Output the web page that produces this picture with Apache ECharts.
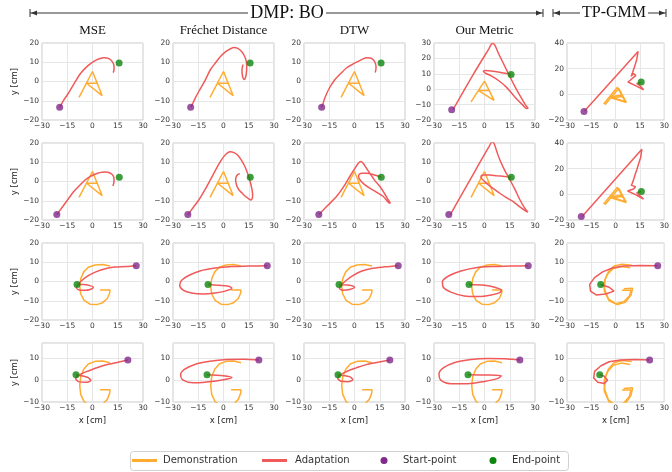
<!DOCTYPE html>
<html><head><meta charset="utf-8">
<script src="https://cdn.jsdelivr.net/npm/echarts/dist/echarts.min.js"></script>
<style>html,body{margin:0;padding:0;background:#fff}#c{width:672px;height:472px}</style>
</head><body><div id="c"></div>
<script>
// ---- column / group labels ----
const colTitles = ['MSE', 'Fréchet Distance', 'DTW', 'Our Metric'];
const xTicks = [-30, -15, 0, 15, 30];

// ---- demonstrations ----
const demoA = [[-8, -8.2], [0, 5.2], [5.7, -7.3], [-3.5, -0.9], [3.2, -0.9]];
const demoA_tp1 = [[-7.4, -7.6], [1.1, 5.5], [6, -5.7], [-3.4, -1.8], [3.5, -0.8]];
const demoA_tp2 = [[-6.6, -8.2], [1.9, 4.6], [6.6, -6.3], [-2.8, -2.6], [4.3, -1.7]];
const demoG = [[10.4, 8], [6, 8.8], [1.5, 8.6], [-2.5, 7.4], [-5.2, 5], [-7, 1.5], [-7.6, -2.5], [-7, -6.5], [-5, -9.8], [-1.5, -11.8], [2.5, -12], [6, -11], [8.8, -8.8], [10.2, -6], [10.4, -4.4], [4.5, -4.4]];
const demoG_tp1 = [[10, 8.5], [4, 9], [-1, 8], [-4.5, 5], [-6.5, 1], [-6.8, -4], [-4.5, -9], [0, -11.5], [5, -10.5], [8.5, -7.5], [9.5, -4.5], [4, -4.5]];
const demoG_tp2 = [[9, 7.2], [3.5, 7.8], [-1.5, 6.8], [-5, 3.8], [-7, 0], [-7, -5], [-4, -10], [1, -12], [6, -10.8], [9.5, -7], [10.5, -3.5], [5, -3.8]];

// ---- start / end points per row ----
const startPts = [[-19.5, -13.4], [-21.2, -17.2], [26, 8.2], [21, 9.2]];
const endPts = [[15.8, 9.6], [15.9, 2.2], [-9.2, -1.6], [-9.8, 2.5]];

// ---- adaptations, row 1 (letter A) ----
const r1_mse = [[-19.5, -13.4], [-17, -9.5], [-15, -7], [-11, -1.2], [-7, 4.3], [-3, 8], [0.8, 10.4], [4, 11.8], [7, 12.4], [9.5, 12], [11.5, 10.6], [12.7, 8.5], [12.8, 6.2], [12.3, 4.6]];
const r1_frechet = [[-19.3, -13.4], [-17, -9], [-14.7, -5.2], [-11, 0.5], [-7.8, 6.1], [-4.5, 10], [-1.8, 13], [1.5, 15.6], [4.2, 17], [6.2, 17.6], [8.5, 17.2], [10.5, 15.8], [12.3, 13.5], [13.4, 11], [13.8, 7.8], [13.6, 4.5], [13.1, 2.2], [12.4, 1], [11.6, 1.8], [11.1, 3.8], [11, 6.1], [11.3, 7.8], [11.7, 8.8]];
const r1_dtw = [[-19.5, -13.4], [-18.5, -11], [-17.7, -8.7], [-15, -3.5], [-11.7, 0.9], [-8, 4.3], [-4.8, 7], [-1.5, 8.8], [1.2, 10.1], [4.5, 11.5], [7.2, 12.4], [9.5, 12.2], [11.3, 11.2], [12.5, 9.2], [12.8, 7], [12.3, 4.7]];
const r1_ours = [[-18.7, -13.3], [-7, 9], [2.5, 26], [4.6, 29.6], [5.8, 29.3], [8, 24], [11.1, 17], [14.5, 9.5], [18.1, 1.7], [21.5, -5], [24.5, -10.5], [25.8, -12.3], [25, -12.5], [22.5, -10], [18, -5], [13.1, 1.2], [8.5, 5.5], [4, 8.6], [0.5, 10.5], [-0.7, 11.6], [0.5, 12.1], [4, 11.8], [9, 11], [13, 10.2], [15.8, 9.6]];
const r1_tpgmm = [[-19.2, -13], [13.9, 33.4], [14.4, 32.2], [13, 27], [11.8, 22], [10.5, 17], [9.6, 14], [11, 16.2], [12.5, 14.8], [9, 11], [7.6, 9.6], [12, 7], [17.3, 3.5], [15.2, 6.5], [13, 8.5], [15.8, 9.4]];

// ---- adaptations, row 2 (letter A) ----
const r2_mse = [[-21.2, -17.2], [-19, -14.6], [-17, -12.2], [-14, -8.6], [-11.1, -5.2], [-7.5, -1.9], [-4.2, 0.9], [-1.5, 2.5], [0.8, 3.5], [3.5, 4.4], [5.7, 4.8], [8, 5], [9.7, 4.7], [11.4, 3.9], [12.4, 2.8], [12.8, 1], [12.6, -1], [12.1, -2.3]];
const r2_frechet = [[-21.1, -17.2], [-18, -13.5], [-14.7, -9.6], [-11, -4.2], [-7.8, 0.9], [-4.8, 5.8], [-1.8, 10.4], [0.5, 13.3], [2.2, 14.8], [4.2, 15.5], [6.2, 15], [8.2, 13.9], [10.8, 10.8], [13.1, 7], [15, 2.5], [16.1, -0.9], [17, -4.5], [17.3, -7], [17, -9], [16.3, -9.6], [15, -9], [13.1, -7.8], [11, -6], [9.1, -4.3], [7.7, -1.7], [7.2, 0.9], [7.6, 2.6], [8.4, 3.6], [9.7, 4]];
const r2_dtw = [[-21.1, -17.2], [-16, -12.5], [-10.7, -7.8], [-6.5, -2.8], [-2.8, 2.6], [0, 6.5], [1.6, 8.7], [2.8, 10], [3.8, 10.4], [5, 9.6], [7, 7], [9.1, 4.3], [12, 0.6], [15.1, -2.6], [18, -6.5], [20.1, -9.6], [21.3, -11.3], [20, -10.7], [17.1, -7.8], [13, -5.5], [9.1, -3.5], [5.5, -1.2], [3.2, 0.9], [2.4, 2.6], [2.8, 3.8], [4.5, 4.3], [7.2, 4.3], [11, 3.6], [15.9, 2.2]];
const r2_ours = [[-20.3, -17.2], [-8, 1.8], [2.5, 17.8], [4.6, 20.5], [5.8, 19.5], [7.5, 15], [9.1, 11.3], [12, 5.8], [15.1, 0.9], [18, -4], [21.1, -9.6], [24, -14], [25.8, -15.8], [24.6, -15.4], [21, -13.2], [17.1, -10.4], [13, -8.4], [9.1, -6.1], [5.5, -3.8], [2.2, -1.7], [-0.3, 0.3], [-1.8, 1.6], [-2.1, 2.7], [-0.8, 3.4], [3, 3.4], [7.2, 3], [12, 2.6], [15.9, 2.2]];
const r2_tpgmm = [[-20.8, -17.5], [16.2, 35.2], [16.8, 34.2], [15.5, 29], [14.3, 24.3], [13.2, 19.5], [12.3, 16.4], [11.2, 12], [10.3, 8.6], [9.7, 7], [12.3, 6], [11, 4.2], [7.4, 2.6], [12, 0], [17.2, -3.7], [13, 1.2], [15.8, 2.3]];

// ---- adaptations, row 3 (letter G) ----
const r3_mse = [[26, 8.2], [20, 7.8], [13, 7.5], [7, 6.5], [2, 5], [-2.5, 3], [-6, 0.8], [-8.5, -1.5], [-9.5, -3.2], [-8, -4.4], [-4.5, -4.6], [-1, -4], [0.5, -3], [-2, -2], [-5.5, -1.6], [-9.2, -1.6]];
const r3_frechet = [[26, 8.2], [15, 8], [5, 7.8], [-5, 7], [-14, 5.5], [-21, 3], [-25, 0.5], [-26, -2], [-24, -4.5], [-19, -6], [-12, -6.5], [-5, -6], [1, -5], [5, -3.5], [3, -2.5], [-3, -2], [-9.2, -1.6]];
const r3_dtw = [[26, 8.2], [18, 7.6], [10, 6.8], [4, 5.3], [-1, 3], [-5, 0.5], [-8, -2], [-9, -3.5], [-7, -4.5], [-3, -4.2], [0, -3], [-3, -2], [-9.2, -1.6]];
const r3_ours = [[26, 8.2], [15, 8], [5, 7.8], [-5, 7.2], [-14, 5.5], [-21, 3], [-25, 0], [-24.5, -3], [-20, -5.5], [-12, -7.5], [-4, -7.8], [4, -7], [9, -5.8], [10, -4.5], [6, -3], [0, -2], [-9.2, -1.6]];
const r3_tpgmm = [[26, 8.2], [15, 8.3], [5, 8], [-2, 7], [-8, 5], [-13, 2], [-16, -1.5], [-15.5, -5], [-12, -7], [-6, -6.5], [-1, -5], [-4, -3], [-9.2, -1.6]];

// ---- adaptations, row 4 (letter G) ----
const r4_mse = [[21, 9.2], [14, 8], [7, 6.8], [1, 5.2], [-4, 3.8], [-8, 2.3], [-10, 0.8], [-8, -0.8], [-4, -1], [-1, -0.2], [-3, 1.3], [-9.8, 2.5]];
const r4_frechet = [[21, 9.2], [12, 9.6], [2, 9.4], [-8, 8.6], [-17, 7.2], [-23, 5], [-25.5, 2.5], [-24, 0], [-18, -1.2], [-10, -0.8], [0, 0.2], [5, 1.2], [0, 2], [-9.8, 2.5]];
const r4_dtw = [[21, 9.2], [14, 8.2], [7, 7.1], [1, 5.6], [-4, 4.2], [-8, 2.6], [-10, 1], [-8, -0.5], [-4, -0.7], [-1, 0.2], [-3, 1.6], [-9.8, 2.5]];
const r4_ours = [[21, 9.2], [12, 9.8], [2, 9.9], [-8, 9.4], [-18, 8], [-24, 5.8], [-27, 3], [-26, 0], [-20, -1.6], [-10, -1.6], [0, -0.6], [8, 0.8], [10, 2], [0, 2.4], [-9.8, 2.5]];
const r4_tpgmm = [[21, 9.2], [12, 9.4], [3, 9.2], [-4, 8.4], [-9, 6.6], [-13, 4], [-13.5, 1], [-11, -1], [-7, -1.5], [-5, 0], [-7, 1.8], [-9.8, 2.5]];

const adaptations = [
  [r1_mse, r1_frechet, r1_dtw, r1_ours, r1_tpgmm],
  [r2_mse, r2_frechet, r2_dtw, r2_ours, r2_tpgmm],
  [r3_mse, r3_frechet, r3_dtw, r3_ours, r3_tpgmm],
  [r4_mse, r4_frechet, r4_dtw, r4_ours, r4_tpgmm]
];
const demos = [
  [[demoA], [demoA], [demoA], [demoA], [demoA_tp1, demoA_tp2]],
  [[demoA], [demoA], [demoA], [demoA], [demoA_tp1, demoA_tp2]],
  [[demoG], [demoG], [demoG], [demoG], [demoG_tp1, demoG_tp2]],
  [[demoG], [demoG], [demoG], [demoG], [demoG_tp1, demoG_tp2]]
];

// y-axis ranges [min, max, step] per panel
const yRanges = [
  [[-20, 20, 10], [-20, 20, 10], [-20, 20, 10], [-20, 30, 10], [-20, 40, 20]],
  [[-20, 20, 10], [-20, 20, 10], [-20, 20, 10], [-20, 20, 10], [-20, 40, 20]],
  [[-20, 20, 10], [-20, 20, 10], [-20, 20, 10], [-20, 20, 10], [-20, 20, 10]],
  [[-10, 17, 10], [-10, 17, 10], [-10, 17, 10], [-10, 17, 10], [-10, 17, 10]]
];

// ---- layout ----
const colLeft = [42, 173, 304, 434, 567];
const plotW = 101;
const rowTop = [43, 143, 243, 343];
const rowH = [77, 77, 77, 59];

const C_DEMO = '#FFAC30', C_ADAPT = '#F05A5A', C_START = '#802B8B', C_END = '#0C860C';
const FONT = 'DejaVu Sans';
const SERIF = 'Liberation Serif';

const fmt = v => (v < 0 ? '\u2212' + (-v) : String(v));
const grids = [], xAxes = [], yAxes = [], series = [];
let k = 0;
for (let r = 0; r < 4; r++) {
  for (let c = 0; c < 5; c++) {
    grids.push({
      left: colLeft[c], top: rowTop[r], width: plotW, height: rowH[r],
      show: true, borderColor: '#c8c8c8', borderWidth: 1, backgroundColor: '#fff'
    });
    xAxes.push({
      type: 'value', gridIndex: k, min: xTicks[0], max: xTicks[xTicks.length - 1], interval: 15,
      axisLine: { show: false }, axisTick: { show: false },
      axisLabel: { fontSize: 7.5, color: '#333', margin: 2, fontFamily: FONT, formatter: fmt },
      splitLine: { lineStyle: { color: '#e6e6e6', width: 1 } },
      name: r === 3 ? 'x [cm]' : '', nameLocation: 'middle', nameGap: 14,
      nameTextStyle: { fontSize: 8.5, color: '#222', fontFamily: FONT }
    });
    const yr = yRanges[r][c];
    const maxIsTick = (yr[1] - yr[0]) % yr[2] === 0;
    yAxes.push({
      type: 'value', gridIndex: k, min: yr[0], max: yr[1], interval: yr[2],
      axisLine: { show: false }, axisTick: { show: false },
      axisLabel: { fontSize: 7.5, color: '#333', margin: 3, fontFamily: FONT, formatter: fmt,
        showMaxLabel: maxIsTick },
      splitLine: { lineStyle: { color: '#e6e6e6', width: 1 } },
      name: c === 0 ? 'y [cm]' : '', nameLocation: 'middle', nameGap: 22, nameRotate: 90,
      nameTextStyle: { fontSize: 8.5, color: '#222', fontFamily: FONT }
    });
    demos[r][c].forEach(d => series.push({
      type: 'line', xAxisIndex: k, yAxisIndex: k, data: d, showSymbol: false,
      lineStyle: { color: C_DEMO, width: 1.5 }, z: 2, silent: true
    }));
    series.push({
      type: 'line', xAxisIndex: k, yAxisIndex: k, data: adaptations[r][c], showSymbol: false,
      smooth: c === 4 ? 0 : 0.3,
      lineStyle: { color: C_ADAPT, width: 1.5 }, z: 3, silent: true
    });
    series.push({
      type: 'scatter', xAxisIndex: k, yAxisIndex: k, data: [startPts[r]], symbolSize: 7,
      itemStyle: { color: C_START }, z: 4, silent: true
    });
    series.push({
      type: 'scatter', xAxisIndex: k, yAxisIndex: k, data: [endPts[r]], symbolSize: 7,
      itemStyle: { color: C_END }, z: 4, silent: true
    });
    k++;
  }
}

// column titles
const titles = colTitles.map((t, i) => ({
  text: t, left: colLeft[i] + plotW / 2, top: 24, textAlign: 'center', padding: 0,
  textStyle: { fontSize: 13, fontWeight: 'normal', color: '#111', fontFamily: SERIF }
}));

// group headers with bracket arrows
function bracket(x1, x2, tx1, tx2, y) {
  const st = { stroke: '#333', lineWidth: 1 };
  return [
    { type: 'line', shape: { x1: x1, y1: y - 4, x2: x1, y2: y + 4 }, style: st },
    { type: 'line', shape: { x1: x1, y1: y, x2: tx1, y2: y }, style: st },
    { type: 'polygon', shape: { points: [[x1 + 1, y], [x1 + 7, y - 2.5], [x1 + 7, y + 2.5]] }, style: { fill: '#333' } },
    { type: 'line', shape: { x1: tx2, y1: y, x2: x2, y2: y }, style: st },
    { type: 'polygon', shape: { points: [[x2 - 1, y], [x2 - 7, y - 2.5], [x2 - 7, y + 2.5]] }, style: { fill: '#333' } },
    { type: 'line', shape: { x1: x2, y1: y - 4, x2: x2, y2: y + 4 }, style: st }
  ];
}
const headerY = 13;
const graphics = [].concat(
  bracket(30, 543, 248, 326, headerY),
  [{ type: 'text', x: 287, y: headerY, style: { text: 'DMP: BO', font: '18px "Liberation Serif"', fill: '#111', textAlign: 'center', textVerticalAlign: 'middle' } }],
  bracket(553, 666, 580, 648, headerY),
  [{ type: 'text', x: 614, y: headerY, style: { text: 'TP-GMM', font: '16px "Liberation Serif"', fill: '#111', textAlign: 'center', textVerticalAlign: 'middle' } }]
);

// legend box
const legendItems = [
  { kind: 'line', color: C_DEMO, label: 'Demonstration', x: 132, tx: 163 },
  { kind: 'line', color: C_ADAPT, label: 'Adaptation', x: 262, tx: 295 },
  { kind: 'dot', color: C_START, label: 'Start-point', x: 384, tx: 403 },
  { kind: 'dot', color: C_END, label: 'End-point', x: 493, tx: 512 }
];
const ly = 460.5;
graphics.push({ type: 'rect', shape: { x: 130.5, y: 451.5, width: 438, height: 19, r: 3 }, style: { fill: '#fff', stroke: '#d0d0d0', lineWidth: 1 } });
legendItems.forEach(it => {
  if (it.kind === 'line') {
    graphics.push({ type: 'line', shape: { x1: it.x, y1: ly, x2: it.x + 25, y2: ly }, style: { stroke: it.color, lineWidth: 3 } });
  } else {
    graphics.push({ type: 'circle', shape: { cx: it.x, cy: ly, r: 3.5 }, style: { fill: it.color } });
  }
  graphics.push({ type: 'text', x: it.tx, y: ly, style: { text: it.label, font: '10px "DejaVu Sans"', fill: '#333', textVerticalAlign: 'middle' } });
});

const chart = echarts.init(document.getElementById('c'), null, { renderer: 'canvas' });
chart.setOption({
  animation: false,
  backgroundColor: '#fff',
  title: titles,
  grid: grids,
  xAxis: xAxes,
  yAxis: yAxes,
  series: series,
  graphic: graphics
});
</script></body></html>
